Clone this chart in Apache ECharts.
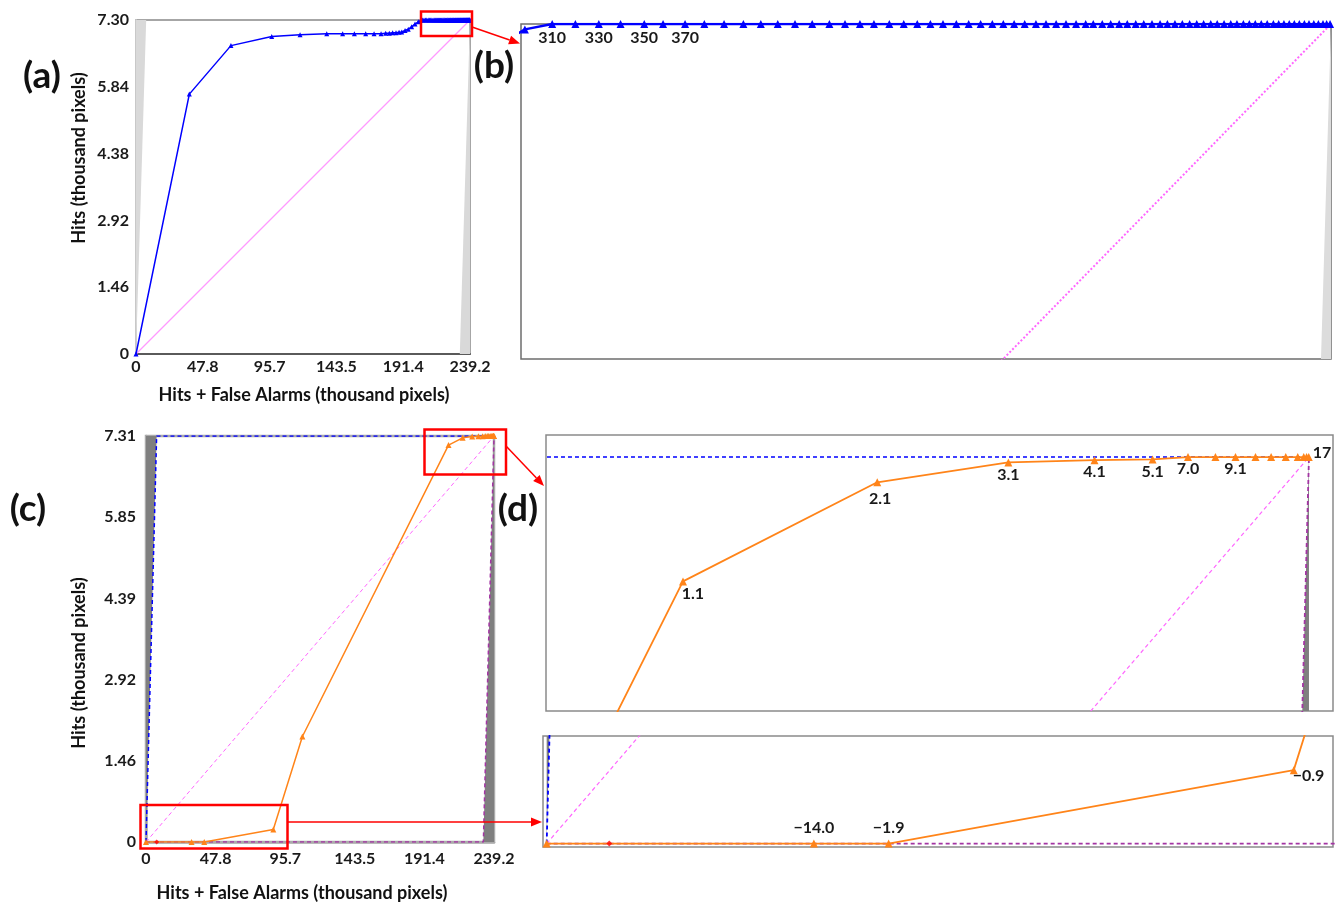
<!DOCTYPE html>
<html>
<head>
<meta charset="utf-8">
<script src="https://cdn.jsdelivr.net/npm/echarts@6/dist/echarts.min.js"></script>
<style>
  html, body { margin: 0; padding: 0; background: #fff; }
  #chart { width: 1338px; height: 905px; }
</style>
</head>
<body>
<div id="chart"></div>
<script>
// ---- Data (thousand pixels) ----
// Extent of the study area and total hits for the two TOC figures
const extent = 239.2;
const hitsTotalAB = 7.30;
const hitsTotalCD = 7.31;

// Blue TOC curve: x = hits + false alarms, y = hits
const blueHitsFA = [
  0, 38.2, 68.0, 97.2, 117.5, 136.6, 148.0, 156.4, 164.5, 170.5,
  175.5, 178.8, 181.4, 183.8, 186.2, 188.4, 190.3, 192.7, 195.0, 197.4,
  199.8, 202.2, 204.07,
  205.26, 206.27, 207.29, 208.24, 209.27, 210.09, 211.05, 211.89, 212.75, 213.59,
  214.35, 215.09, 215.84, 216.59, 217.34, 218.02, 218.67, 219.28, 219.95, 220.58,
  221.17, 221.74, 222.29, 222.87, 223.41, 223.93, 224.44, 224.92, 225.39, 225.85,
  226.34, 226.78, 227.22, 227.65, 228.09, 228.51, 228.84, 229.23, 229.60, 229.97,
  230.32, 230.69, 231.04, 231.40, 231.75, 232.07, 232.40, 232.72, 233.04, 233.35,
  233.65, 233.96, 234.24, 234.54, 234.83, 235.10, 235.38, 235.64, 235.90, 236.16,
  236.42, 236.69, 236.92, 237.15, 237.38, 237.60, 237.82, 238.04, 238.24, 238.45,
  238.65, 238.85, 239.01, 239.16
];
const blueHits = [
  0, 5.68, 6.74, 6.94, 6.98, 7.00, 7.00, 7.00, 7.00, 7.00,
  7.00, 7.01, 7.01, 7.02, 7.02, 7.03, 7.04, 7.07, 7.10, 7.15,
  7.21, 7.26, 7.293,
  7.30, 7.30, 7.30, 7.30, 7.30, 7.30, 7.30, 7.30, 7.30, 7.30,
  7.30, 7.30, 7.30, 7.30, 7.30, 7.30, 7.30, 7.30, 7.30, 7.30,
  7.30, 7.30, 7.30, 7.30, 7.30, 7.30, 7.30, 7.30, 7.30, 7.30,
  7.30, 7.30, 7.30, 7.30, 7.30, 7.30, 7.30, 7.30, 7.30, 7.30,
  7.30, 7.30, 7.30, 7.30, 7.30, 7.30, 7.30, 7.30, 7.30, 7.30,
  7.30, 7.30, 7.30, 7.30, 7.30, 7.30, 7.30, 7.30, 7.30, 7.30,
  7.30, 7.30, 7.30, 7.30, 7.30, 7.30, 7.30, 7.30, 7.30, 7.30,
  7.30, 7.30, 7.30, 7.30
];
// Thresholds printed in the zoomed blue view, and the curve points they belong to
const blueLabelIndex = [23, 25, 27, 29];
const blueLabelText = ['310', '330', '350', '370'];

// Orange TOC curve with its threshold labels
const orangeHitsFA = [0, 31.3, 40.05, 87.5, 107.5, 207.94, 217.64, 224.19, 228.49, 231.39,
  233.16, 234.53, 235.53, 236.53, 237.31, 238.04, 238.64, 238.94, 239.08, 239.19];
const orangeHits = [0, 0, 0, 0.226, 1.90, 7.147, 7.277, 7.303, 7.306, 7.307,
  7.31, 7.31, 7.31, 7.31, 7.31, 7.31, 7.31, 7.31, 7.31, 7.31];
const orangeThresholds = ['', '\u221214.0', '\u22121.9', '\u22120.9', '', '1.1', '2.1', '3.1', '4.1', '5.1',
  '7.0', '', '9.1', '', '', '', '', '', '', '17'];
// Single highlighted point on the orange curve
const redHitsFA = [7.33];
const redHits = [0];

// ---- Styling ----
const FONT = 'Lato, "Open Sans", "DejaVu Sans", sans-serif';
const WEIGHT = 'bold';
const RED = '#ff0000';
const BLUE = '#0000ff';
const ORANGE = '#ff8419';
const PURPLE = '#a335a3';
const MAGENTA = '#ff66ff';
const PINK = '#ff99ff';

const pairs = (xs, ys) => xs.map((x, i) => [x, ys[i]]);
const blueData = pairs(blueHitsFA, blueHits);
const orangeData = pairs(orangeHitsFA, orangeHits);
const redData = pairs(redHitsFA, redHits);

const uniformLine = total => [[0, 0], [extent, total]];
const maxLine = total => [[0, 0], [total, total], [extent, total]];
const minLine = total => [[0, 0], [extent - total, 0], [extent, total]];
const leftWedge = total => [[0, 0], [total, total]];
const rightWedge = total => [[extent - total, 0], [extent, total]];

const labelBase = { show: true, fontSize: 16, fontWeight: WEIGHT, color: '#1a1a1a', fontFamily: FONT };

// label placement for the orange thresholds in the zoomed views
const orangePlacement = {
  '\u221214.0': { position: 'top', distance: 4 },
  '\u22121.9': { position: 'top', distance: 4 },
  '\u22120.9': { position: 'right', distance: -5, offset: [0, 6] },
  '1.1': { position: 'bottom', distance: 0, offset: [10, 0] },
  '2.1': { position: 'bottom', distance: 5, offset: [3, 0] },
  '17': { position: 'right', distance: 0, offset: [0, -4] }
};
const orangeDefault = { position: 'bottom', distance: 0 };

function orangeLabeled(yLow, yHigh) {
  return orangeData.map((p, i) => {
    const t = orangeThresholds[i];
    if (!t || p[1] < yLow || p[1] > yHigh) return p;
    return { value: p, label: Object.assign({}, labelBase, orangePlacement[t] || orangeDefault, { formatter: t }) };
  });
}

const blueLabeled = blueData.map((p, i) => {
  const k = blueLabelIndex.indexOf(i);
  if (k < 0) return p;
  return { value: p, label: Object.assign({}, labelBase, { position: 'bottom', distance: 2, formatter: blueLabelText[k] }) };
});

// ---- Axes ----
const tickLabel = { fontSize: 16, fontWeight: WEIGHT, color: '#1a1a1a', fontFamily: FONT };
const fmt1 = v => (v === 0 ? '0' : v.toFixed(1));
const fmt2 = v => (v === 0 ? '0' : v.toFixed(2));

const hiddenAxis = (gridIndex, min, max) => ({ type: 'value', gridIndex, min, max, show: false });

const grids = [
  { left: 136, top: 20, width: 334, height: 334, show: true, borderColor: '#a6a6a6', borderWidth: 2 },
  { left: 521, top: 24, width: 810, height: 335, show: true, borderColor: '#6e6e6e', borderWidth: 1.5 },
  { left: 146, top: 436, width: 348, height: 406, show: true, borderColor: '#ababab', borderWidth: 2.5 },
  { left: 546, top: 435, width: 787, height: 276, show: true, borderColor: '#8a8a8a', borderWidth: 1.5 },
  { left: 543, top: 736, width: 790, height: 111, show: true, borderColor: '#8a8a8a', borderWidth: 1.5 }
].map(g => Object.assign({ outerBoundsMode: 'none', containLabel: false, backgroundColor: 'transparent' }, g));

const xAxes = [
  { type: 'value', gridIndex: 0, min: 0, max: extent, interval: 47.84,
    axisLine: { show: true, onZero: false, lineStyle: { color: '#5a5a5a', width: 2 } },
    axisTick: { show: false }, splitLine: { show: false },
    axisLabel: Object.assign({ margin: 5, formatter: fmt1 }, tickLabel) },
  hiddenAxis(1, 203.9, 239.2),
  { type: 'value', gridIndex: 2, min: 0, max: extent, interval: 47.84,
    axisLine: { show: true, onZero: false, lineStyle: { color: '#ababab', width: 2.5 } },
    axisTick: { show: false }, splitLine: { show: false },
    axisLabel: Object.assign({ margin: 9, formatter: fmt1 }, tickLabel) },
  hiddenAxis(3, 201.1, 240.4),
  hiddenAxis(4, -0.43, 92.1)
];
const yAxes = [
  { type: 'value', gridIndex: 0, min: 0, max: hitsTotalAB, interval: 1.46,
    axisLine: { show: true, onZero: false, lineStyle: { color: '#c8c8c8', width: 2 } },
    axisTick: { show: false }, splitLine: { show: false },
    axisLabel: Object.assign({ margin: 7, formatter: fmt2 }, tickLabel) },
  hiddenAxis(1, 6.864, 7.30),
  { type: 'value', gridIndex: 2, min: 0, max: hitsTotalCD, interval: 1.462,
    axisLine: { show: true, onZero: false, lineStyle: { color: '#ababab', width: 2.5 } },
    axisTick: { show: false }, splitLine: { show: false },
    axisLabel: Object.assign({ margin: 10, formatter: fmt2 }, tickLabel) },
  hiddenAxis(3, 6.977, 7.339),
  hiddenAxis(4, -0.0105, 0.331)
];

// ---- Series helpers ----
function wedge(idx, data, origin, color) {
  return { type: 'line', xAxisIndex: idx, yAxisIndex: idx, data, symbol: 'none', silent: true,
    lineStyle: { width: 0, opacity: 0 }, areaStyle: { color, origin, opacity: 1 }, z: 1 };
}
function guide(idx, data, color, width, type, z) {
  return { type: 'line', xAxisIndex: idx, yAxisIndex: idx, data, symbol: 'none', silent: true,
    lineStyle: { color, width, type, opacity: 1 }, itemStyle: { color }, z: z || 2 };
}
function curve(idx, data, color, width, size, z) {
  return { type: 'line', xAxisIndex: idx, yAxisIndex: idx, data, symbol: 'triangle', symbolSize: size,
    showAllSymbol: true, silent: true, clip: true,
    lineStyle: { color, width }, itemStyle: { color }, z: z || 5 };
}
function redPoint(idx, size) {
  return { type: 'scatter', xAxisIndex: idx, yAxisIndex: idx, data: redData, symbol: 'diamond',
    symbolSize: size, silent: true, itemStyle: { color: RED }, z: 6 };
}

const series = [
  // (a) full blue curve
  wedge(0, leftWedge(hitsTotalAB), 'end', '#d9d9d9'),
  wedge(0, rightWedge(hitsTotalAB), 'start', '#d9d9d9'),
  guide(0, uniformLine(hitsTotalAB), PINK, 1.3, 'solid'),
  curve(0, blueData, BLUE, 1.5, 5),
  // (b) upper-right detail of the blue curve
  wedge(1, rightWedge(hitsTotalAB), 'start', '#dcdcdc'),
  guide(1, uniformLine(hitsTotalAB), MAGENTA, 2, 'dotted'),
  curve(1, blueLabeled, BLUE, 2.5, 8),
  // (c) full orange curve with bounds
  wedge(2, leftWedge(hitsTotalCD), 'end', '#7f7f7f'),
  wedge(2, rightWedge(hitsTotalCD), 'start', '#7f7f7f'),
  guide(2, uniformLine(hitsTotalCD), MAGENTA, 1, [4, 3]),
  guide(2, minLine(hitsTotalCD), PURPLE, 1.5, [4, 3], 3),
  guide(2, maxLine(hitsTotalCD), BLUE, 1.5, [4, 3], 3),
  curve(2, orangeData, ORANGE, 1.5, 6),
  redPoint(2, 5),
  // (d) upper detail
  wedge(3, rightWedge(hitsTotalCD), 'start', '#7f7f7f'),
  guide(3, uniformLine(hitsTotalCD), MAGENTA, 1.2, [4, 3]),
  guide(3, minLine(hitsTotalCD), PURPLE, 1.8, [4, 3], 3),
  guide(3, maxLine(hitsTotalCD), BLUE, 1.5, [4, 3], 3),
  curve(3, orangeLabeled(7, 8), ORANGE, 1.8, 8),
  // (d) lower detail
  wedge(4, leftWedge(hitsTotalCD), 'end', '#7f7f7f'),
  guide(4, uniformLine(hitsTotalCD), MAGENTA, 1.2, [4, 3]),
  guide(4, minLine(hitsTotalCD), PURPLE, 1.8, [4, 3], 3),
  guide(4, maxLine(hitsTotalCD), BLUE, 1.8, [4, 3], 3),
  curve(4, orangeLabeled(-1, 1), ORANGE, 1.8, 8),
  redPoint(4, 6)
];

// ---- Annotations: panel letters, axis titles, zoom boxes and arrows ----
function text(str, x, y, size, rotation) {
  return { type: 'text', x, y, rotation: rotation || 0, z: 100, silent: true,
    style: { text: str, fontSize: size, fontWeight: WEIGHT, fontFamily: FONT, fill: '#111',
      align: 'center', verticalAlign: 'middle' } };
}
function box(x, y, w, h) {
  return { type: 'rect', z: 100, silent: true, shape: { x, y, width: w, height: h },
    style: { fill: 'none', stroke: RED, lineWidth: 2.5 } };
}
function arrow(x1, y1, x2, y2) {
  const a = Math.atan2(y2 - y1, x2 - x1), L = 11, W = 4.5;
  const bx = x2 - L * Math.cos(a), by = y2 - L * Math.sin(a);
  const px = -Math.sin(a) * W, py = Math.cos(a) * W;
  return [
    { type: 'line', z: 100, silent: true, shape: { x1, y1, x2: bx, y2: by }, style: { stroke: RED, lineWidth: 1.5 } },
    { type: 'polygon', z: 100, silent: true, shape: { points: [[x2, y2], [bx + px, by + py], [bx - px, by - py]] },
      style: { fill: RED } }
  ];
}

const xTitle = 'Hits + False Alarms (thousand pixels)';
const yTitle = 'Hits (thousand pixels)';

const graphic = [
  text('(a)', 42, 76, 37),
  text('(b)', 494, 66, 37),
  text('(c)', 28, 509, 37),
  text('(d)', 518, 509, 37),
  text(xTitle, 304, 395, 18),
  text(yTitle, 79, 158, 18, Math.PI / 2),
  text(xTitle, 302, 893, 18),
  text(yTitle, 79, 663, 18, Math.PI / 2),
  box(421, 11.5, 51, 24.5),
  box(424.5, 429.5, 81.5, 45),
  box(140.5, 805, 147, 43.5)
].concat(
  arrow(472, 27, 520, 43.5),
  arrow(506, 446, 544, 486),
  arrow(288, 822, 542, 822)
);

const chart = echarts.init(document.getElementById('chart'), null, { renderer: 'canvas' });
chart.setOption({
  animation: false,
  backgroundColor: '#ffffff',
  textStyle: { fontFamily: FONT },
  grid: grids,
  xAxis: xAxes,
  yAxis: yAxes,
  series,
  graphic
});
</script>
</body>
</html>
